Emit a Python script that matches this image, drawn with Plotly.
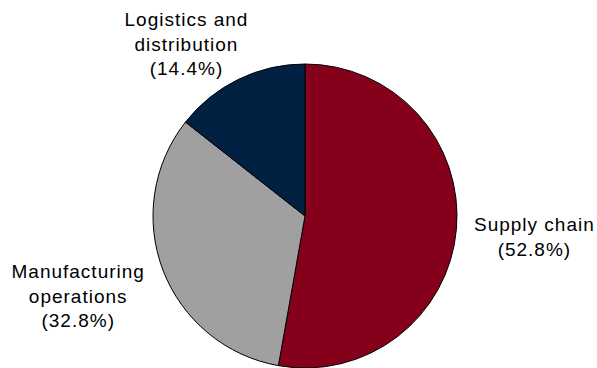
import plotly.graph_objects as go

# Data
categories = ["Supply chain", "Manufacturing operations", "Logistics and distribution"]
shares = [52.8, 32.8, 14.4]

# Styles
slice_colors = ["#85001B", "#A0A0A0", "#002142"]
label_lines = {
    "Supply chain": "Supply chain",
    "Manufacturing operations": "Manufacturing<br>operations",
    "Logistics and distribution": "Logistics and<br>distribution",
}
# label block centres in pixels (x, y from top)
label_pos = {
    "Supply chain": (534, 237),
    "Manufacturing operations": (78, 296),
    "Logistics and distribution": (186, 44),
}

W, H = 597, 368
cx, cy, r = 305, 216, 152

fig = go.Figure(go.Pie(
    labels=categories,
    values=shares,
    sort=False,
    direction="clockwise",
    rotation=0,
    marker=dict(colors=slice_colors, line=dict(color="black", width=1)),
    textinfo="none",
    hoverinfo="label+percent",
    showlegend=False,
    domain=dict(x=[(cx - r) / W, (cx + r) / W], y=[(H - cy - r) / H, (H - cy + r) / H]),
))

for cat, val in zip(categories, shares):
    px, py = label_pos[cat]
    fig.add_annotation(
        x=px / W, y=1 - py / H, xref="paper", yref="paper",
        text=f"{label_lines[cat]}<br>({val:.1f}%)",
        showarrow=False, xanchor="center", yanchor="middle", align="center",
        font=dict(family="Liberation Sans, Arial, sans-serif", size=19, color="black"),
    )

fig.update_layout(
    width=W, height=H,
    margin=dict(l=0, r=0, t=0, b=0),
    paper_bgcolor="white", plot_bgcolor="white",
)

post = (
    "document.body.style.margin='0';"
    "document.querySelectorAll('.annotation-text').forEach(function(e){e.style.letterSpacing='1px';});"
)
fig.write_html("out.html", post_script=post, config={"displayModeBar": False})
